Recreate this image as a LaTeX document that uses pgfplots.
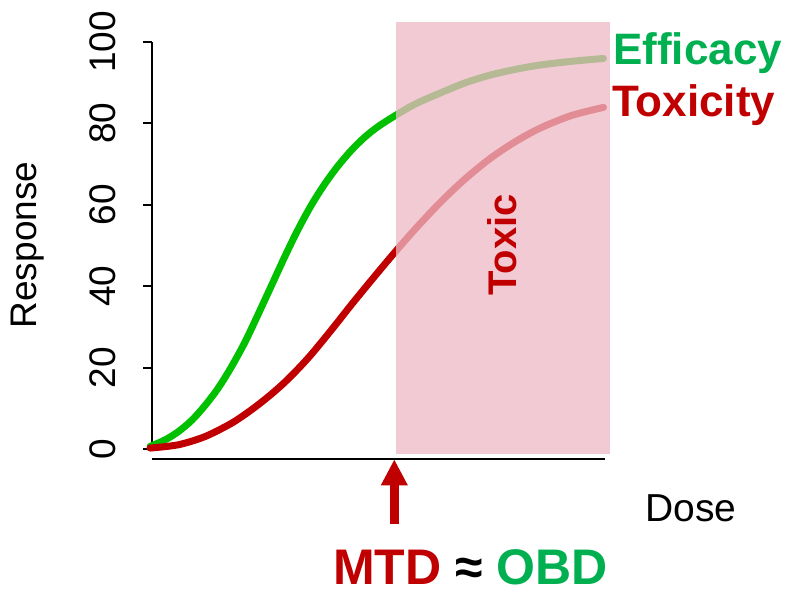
\documentclass[border=0pt]{standalone}
\usepackage{fontspec}
\setmainfont{Liberation Sans}
\usepackage{pgfplots}
\pgfplotsset{compat=1.18}
\usetikzlibrary{arrows.meta}
\definecolor{curvegreen}{RGB}{0,192,0}
\definecolor{curvered}{RGB}{192,0,0}
\definecolor{textgreen}{RGB}{0,176,80}
\definecolor{toxpink}{RGB}{238,185,197}

\begin{document}
\begin{tikzpicture}
\useasboundingbox (0pt,0pt) rectangle (785pt,591pt);
\begin{axis}[
    at={(152.3pt,141.7pt)}, anchor=south west,
    scale only axis, width=453pt, height=407.5pt,
    xmin=0, xmax=100, ymin=0, ymax=100,
    clip=false,
    axis x line=none,
    axis y line*=left,
    axis line style={line width=1.8pt, black},
    ytick={0,20,40,60,80,100},
    tick align=outside,
    major tick length=9pt,
    tick style={line width=1.8pt, black},
    /pgf/number format/assume math mode=true,
    yticklabel style={rotate=90, anchor=south, inner sep=0pt,
        font=\fontsize{37}{44}\selectfont},
    yticklabel shift=27pt,
]
% Efficacy
\addplot[curvegreen, line width=7pt, line cap=round, smooth] coordinates {
    (-0.5,0.7) (2.8,2.3) (5.7,4.3) (8.7,7.1) (11.6,10.7) (14.6,15.1)
    (17.5,20.3) (20.5,26.4) (23.4,33.2) (26.4,40.4) (29.3,47.4)
    (32.2,54.0) (35.1,59.9) (38.0,65.0) (40.9,69.4) (43.8,73.2)
    (46.7,76.4) (49.6,79.0) (53.2,81.6) (58.0,84.7) (63.5,87.4)
    (69.0,89.9) (74.5,91.8) (80.0,93.2) (85.6,94.3) (92.5,95.2) (99.6,95.9)
};
% Toxicity
\addplot[curvered, line width=7pt, line cap=round, smooth] coordinates {
    (-0.5,0.3) (5.7,1.1) (11.6,3.1) (17.5,6.4) (21.9,9.7) (25.6,12.9)
    (28.9,16.1) (31.9,19.4) (34.8,22.9) (37.8,26.9) (40.7,30.9)
    (43.6,35.0) (46.6,39.1) (49.5,43.0) (53.2,47.9) (58.0,54.0)
    (63.5,60.5) (68.8,66.1) (74.5,71.3) (80.0,75.4) (85.6,78.8)
    (92.5,81.9) (99.6,83.9)
};
% toxic dose region
\fill[toxpink, fill opacity=0.76] (axis cs:53.8,-1.23) rectangle (axis cs:101,104.9);
% x axis line
\draw[line width=1.8pt, black] (axis cs:-0.1,-2.4) -- (axis cs:99.9,-2.4);
\node[rotate=90, anchor=base, inner sep=0pt, text=curvered,
    font=\fontsize{40}{48}\selectfont\bfseries] at (axis cs:80.5,50.1) {Toxic};
\end{axis}
\node[rotate=90, anchor=base, inner sep=0pt,
    font=\fontsize{37}{44}\selectfont] at (36.7pt,346pt) {Response};
\node[anchor=base west, inner sep=0pt, text=textgreen,
    font=\fontsize{44}{52}\selectfont\bfseries] at (613pt,526pt) {Efficacy};
\node[anchor=base west, inner sep=0pt, text=curvered,
    font=\fontsize{44}{52}\selectfont\bfseries] at (612pt,474pt) {Toxicity};
\node[anchor=base west, inner sep=0pt,
    font=\fontsize{39}{46}\selectfont] at (645pt,69.3pt) {Dose};
\draw[curvered, line width=9pt, -{Triangle[width=25pt,length=26pt]}]
    (394.3pt,67pt) -- (394.3pt,131.7pt);
\node[anchor=base west, inner sep=0pt,
    font=\fontsize{50}{58}\selectfont\bfseries] at (333pt,6.5pt)
    {\textcolor{curvered}{MTD} ≈ \textcolor{textgreen}{OBD}};
\end{tikzpicture}
\end{document}
